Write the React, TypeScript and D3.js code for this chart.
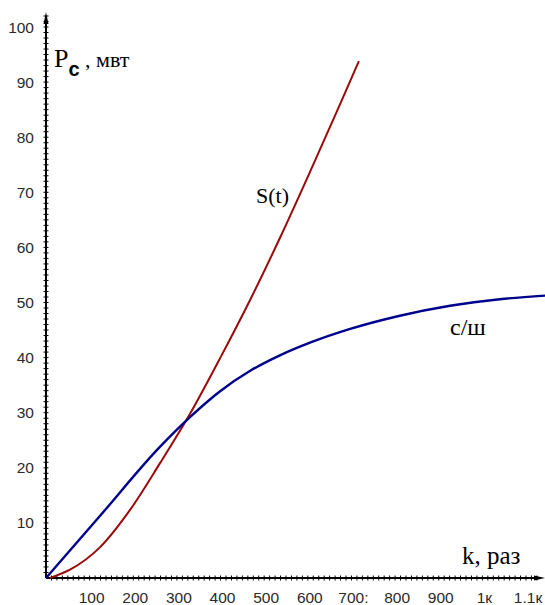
import React from 'react';
import * as d3 from 'd3';

// с/ш curve
const snrK = [0, 124, 261, 330, 399, 468, 536, 605, 697, 811, 926, 1040, 1144];
const snrP = [0, 11.3, 23.8, 29.2, 33.9, 37.6, 40.4, 42.7, 45.2, 47.6, 49.4, 50.6, 51.25];

// S(t) curve
const sK = [9, 55, 124, 193, 261, 330, 399, 468, 536, 605, 674, 717];
const sP = [0, 1.5, 5.6, 12.4, 20.8, 29.8, 39.9, 50.5, 61.7, 73.7, 86.0, 93.8];

const xTickValues = [100, 200, 300, 400, 500, 600, 700, 800, 900, 1000, 1100];
const xTickLabels = ['100', '200', '300', '400', '500', '600', '700:', '800', '900', '1к', '1.1к'];
const yTickValues = [10, 20, 30, 40, 50, 60, 70, 80, 90, 100];

const W = 545;
const H = 605;

const App = () => {
  const x = d3.scaleLinear().domain([0, 1100]).range([46, 526]);
  const y = d3.scaleLinear().domain([0, 100]).range([578, 27]);

  const line = d3
    .line<[number, number]>()
    .x(d => x(d[0]))
    .y(d => y(d[1]))
    .curve(d3.curveMonotoneX);

  const snrPath = line(snrK.map((k, i) => [k, snrP[i]])) || '';
  const sPath = line(sK.map((k, i) => [k, sP[i]])) || '';

  const xMinor = d3.range(12.5, 1130, 12.5);
  const yMinor = d3.range(1, 103, 1);

  const x0 = x(0);
  const y0 = y(0);

  return (
    <div style={{ position: 'absolute', left: 0, top: 0 }}>
      <svg width={W} height={H} style={{ display: 'block', background: '#fff' }}>
        {/* minor ticks */}
        <g stroke="#000" strokeWidth={1}>
          {yMinor.map(v => (
            <line key={'y' + v} x1={x0 - 2.5} x2={x0 + 2.5} y1={y(v)} y2={y(v)} />
          ))}
          {xMinor.map(v => (
            <line key={'x' + v} x1={x(v)} x2={x(v)} y1={y0 - 2.5} y2={y0 + 2.5} />
          ))}
        </g>

        {/* axes */}
        <line x1={x0} x2={x0} y1={y0} y2={16} stroke="#000" strokeWidth={2} />
        <line x1={x0} x2={540} y1={y0} y2={y0} stroke="#000" strokeWidth={2} />
        <path d={`M${x0 - 2.5},24 L${x0},12 L${x0 + 2.5},24 Z`} fill="#000" />
        <path d={`M534,${y0 - 2.5} L545,${y0} L534,${y0 + 2.5} Z`} fill="#000" />

        {/* tick labels */}
        <g fontFamily="'Liberation Sans', Arial, sans-serif" fontSize={15.5} fill="#2a2a2a">
          {yTickValues.map(v => (
            <text key={v} x={34} y={y(v)} dy="0.36em" textAnchor="end">
              {v}
            </text>
          ))}
          {xTickValues.map((v, i) => (
            <text key={v} x={x(v) + 2} y={603} textAnchor="middle">
              {xTickLabels[i]}
            </text>
          ))}
        </g>

        {/* curves */}
        <path d={sPath} fill="none" stroke="#9b0a0a" strokeWidth={2} />
        <path d={snrPath} fill="none" stroke="#00008e" strokeWidth={2.4} />

        {/* labels */}
        <g fontFamily="'Liberation Serif', 'Times New Roman', serif" fill="#000">
          <text x={54} y={67} fontSize={26}>
            P
            <tspan fontSize={20} dy={9} fontWeight="bold" fontFamily="'Liberation Sans', sans-serif">c</tspan>
            <tspan fontSize={22} dy={-9}> , мвт</tspan>
          </text>
          <text x={256} y={203} fontSize={22}>S(t)</text>
          <text x={450} y={335} fontSize={24}>с/ш</text>
          <text x={462} y={564} fontSize={25}>k, раз</text>
        </g>
      </svg>
    </div>
  );
};

export default App;
